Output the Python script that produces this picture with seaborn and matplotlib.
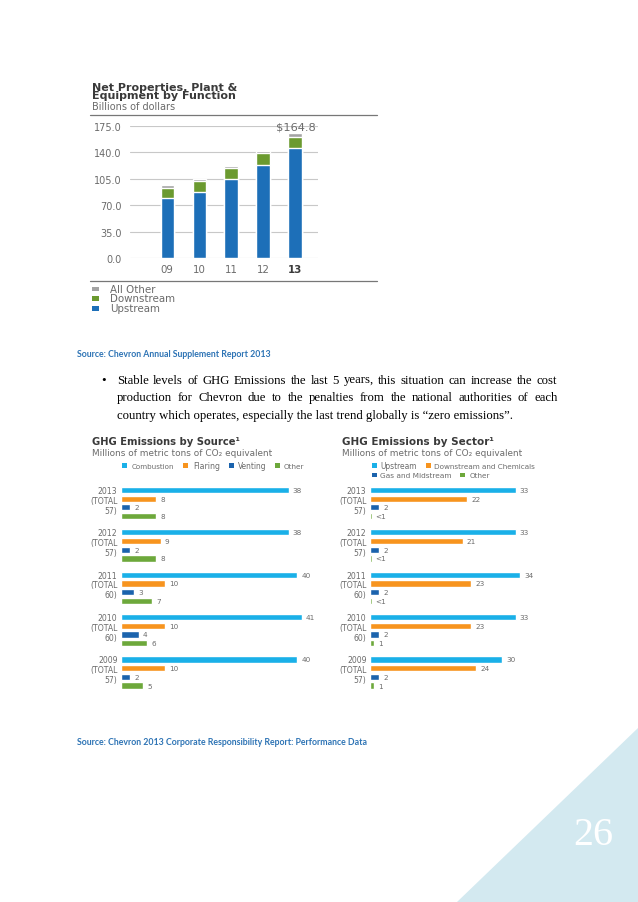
import numpy as np
import pandas as pd
import matplotlib
matplotlib.use("Agg")
import matplotlib.pyplot as plt
from matplotlib.patches import Rectangle, Polygon
import seaborn as sns

# ---------------- data ----------------
ppe_years = ["09", "10", "11", "12", "13"]
ppe_upstream = [79.0, 87.0, 105.0, 122.5, 145.0]
ppe_downstream = [13.5, 14.5, 14.0, 16.0, 15.5]
ppe_other = [3.5, 3.0, 2.5, 2.5, 4.3]
ppe_yticks = [0, 35, 70, 105, 140, 175]
ppe_total_label = "$164.8"

ghg_years = ["2013", "2012", "2011", "2010", "2009"]
ghg_totals = [57, 57, 60, 60, 57]

src_series = ["Combustion", "Flaring", "Venting", "Other"]
src_combustion = [38, 38, 40, 41, 40]
src_flaring = [8, 9, 10, 10, 10]
src_venting = [2, 2, 3, 4, 2]
src_other = [8, 8, 7, 6, 5]

sec_series = ["Upstream", "Downstream and Chemicals", "Gas and Midstream", "Other"]
sec_upstream = [33, 33, 34, 33, 30]
sec_downstream = [22, 21, 23, 23, 24]
sec_gas = [2, 2, 2, 2, 2]
sec_other = [0.35, 0.35, 0.35, 1, 1]
sec_other_labels = ["<1", "<1", "<1", "1", "1"]

# ---------------- figure ----------------
sns.set_theme(style="white")
plt.rcParams["font.family"] = ["DejaVu Sans"]
W, H = 638, 903
fig = plt.figure(figsize=(W / 100, H / 100), dpi=100)
fig.patch.set_facecolor("white")
renderer = fig.canvas.get_renderer()


def fx(x):
    return x / W


def fy(y):
    return 1 - y / H


def ax_rect(x0, y0, x1, y1):
    return [fx(x0), fy(y1), (x1 - x0) / W, (y1 - y0) / H]


def ftext(x, y, s, target_w=None, ha="left", va="center", max_size=None, **kw):
    t = fig.text(fx(x), fy(y), s, ha=ha, va=va, **kw)
    if target_w is not None:
        w = t.get_window_extent(renderer).width
        if w > 0:
            size = t.get_fontsize() * target_w / w
            if max_size is not None:
                size = min(size, max_size)
            t.set_fontsize(size)
    return t


def hline(x0, x1, y, color="#777777", lw=0.9):
    fig.add_artist(plt.Line2D([fx(x0), fx(x1)], [fy(y), fy(y)],
                              transform=fig.transFigure, color=color, lw=lw))


def square(x, y, color, w=5, h=5):
    fig.add_artist(Rectangle((fx(x), fy(y + h / 2)), w / W, h / H,
                             transform=fig.transFigure, color=color, lw=0))


DARK = "#3a3a3a"
GRAY = "#6b6b6b"

# ---------------- top chart: PP&E ----------------
c_up, c_down, c_oth = "#1d6fb8", "#6b9a2f", "#a3a3a3"
ftext(92, 99.0, "Net Properties, Plant &\nEquipment by Function", None, va="baseline",
      fontweight="bold", color=DARK, fontsize=8.0, linespacing=0.8)
ftext(92, 109.8, "Billions of dollars", None, va="baseline", color=GRAY, fontsize=7.0)
hline(90, 377, 115.5)
hline(90, 377, 282)

ax1 = fig.add_axes(ax_rect(130, 126.7, 318, 259))
df_ppe = pd.DataFrame({"year": ppe_years, "up": ppe_upstream,
                       "down": ppe_downstream, "oth": ppe_other})
df_ppe["tot"] = df_ppe["up"] + df_ppe["down"] + df_ppe["oth"]
df_ppe["updown"] = df_ppe["up"] + df_ppe["down"]
for col, c in [("tot", c_oth), ("updown", c_down), ("up", c_up)]:
    sns.barplot(data=df_ppe, x="year", y=col, color=c, saturation=1,
                width=0.41, ax=ax1, errorbar=None, zorder=3)
ax1.set_ylim(0, 175)
ax1.set_xlim(-1.16, 4.72)
ax1.set_yticks(ppe_yticks, [f"{v:.1f}" for v in ppe_yticks])
ax1.grid(axis="y", color="#c8c8c8", lw=0.8, zorder=0)
ax1.set_axisbelow(True)
for s in ax1.spines.values():
    s.set_visible(False)
ax1.set_xlabel("")
ax1.set_ylabel("")
ax1.tick_params(axis="y", length=0, pad=6, labelsize=7.0, labelcolor=GRAY)
ax1.tick_params(axis="x", length=0, pad=4, labelsize=7.4, labelcolor=GRAY)
for lab in ax1.get_xticklabels():
    if lab.get_text() == "13":
        lab.set_fontweight("bold")
        lab.set_color(DARK)
last = len(ppe_years) - 1
ax1.annotate(ppe_total_label, (last, df_ppe["tot"].iloc[last]), xytext=(0.5, 1.5),
             textcoords="offset points", ha="center", va="bottom",
             fontsize=8.2, color=GRAY)

for y, lab, c in [(290, "All Other", c_oth), (299.5, "Downstream", c_down),
                  (309.3, "Upstream", c_up)]:
    square(92, y, c, w=7, h=4.5)
    ftext(110, y, lab, None, color=GRAY, fontsize=7.4)

# ---------------- source 1 ----------------
BLUE_TXT = "#2e74b5"
ftext(77, 354.5, "Source: Chevron Annual Supplement Report 2013", 197,
      color=BLUE_TXT, family=["Lato", "DejaVu Sans"], fontweight="bold", fontsize=7)

# ---------------- bullet paragraph ----------------
serif = ["Liberation Serif", "DejaVu Serif"]
ftext(101.5, 380.5, "•", None, color="black", family=serif, fontsize=9.5)
lines = [
    "Stable levels of GHG Emissions the last 5 years, this situation can increase the cost",
    "production for Chevron due to the penalties from the national authorities of each",
    "country which operates, especially the last trend globally is “zero emissions”.",
]
line_y = [380.5, 398.5, 416.3]
x_start, x_end = 116.7, 557.5
probe = ftext(x_start, line_y[2], lines[2], 396.5, color="black", family=serif, fontsize=10)
fsz = probe.get_fontsize()
probe.remove()
for txt, yy in zip(lines[:2], line_y[:2]):
    words = txt.split(" ")
    objs = [ftext(0, yy, w_, None, color="black", family=serif, fontsize=fsz) for w_ in words]
    widths = [o.get_window_extent(renderer).width for o in objs]
    gap = (x_end - x_start - sum(widths)) / (len(words) - 1)
    xx = x_start
    for o, wd in zip(objs, widths):
        o.set_x(fx(xx))
        xx += wd + gap
ftext(x_start, line_y[2], lines[2], None, color="black", family=serif, fontsize=fsz)

# ---------------- GHG charts ----------------
c_cyan, c_orange, c_dblue, c_green = "#1ab0e8", "#f7941e", "#1b63ad", "#6da83b"
PXU = 4.41  # pixels per unit


def ghg_chart(x0, series, values, labels, colors, title, title_w, sub_w, tx):
    ylabels = [f"{y}\n(TOTAL\n{t})" for y, t in zip(ghg_years, ghg_totals)]
    rows = []
    for s, vals in zip(series, values):
        for yl, v in zip(ylabels, vals):
            rows.append({"year": yl, "series": s, "value": v})
    df = pd.DataFrame(rows)
    ax = fig.add_axes(ax_rect(x0, 482.8, x0 + 46 * PXU, 694.7))
    sns.barplot(data=df, y="year", x="value", hue="series", hue_order=series,
                order=ylabels, orient="h", palette=colors, saturation=1,
                width=0.82, gap=0.28, errorbar=None, legend=False, ax=ax)
    ax.set_xlim(0, 46)
    ax.set_ylim(4.5, -0.5)
    ax.set_xticks([])
    ax.set_yticks(np.arange(len(ylabels)) - 0.1, ylabels)
    for s in ax.spines.values():
        s.set_visible(False)
    ax.set_xlabel("")
    ax.set_ylabel("")
    ax.tick_params(axis="y", length=0, pad=2.5, labelsize=5.6, labelcolor=GRAY)
    for lab in ax.get_yticklabels():
        lab.set_linespacing(1.12)
        lab.set_ha("right")
    for cont, labs in zip(ax.containers, labels):
        ax.bar_label(cont, labels=labs, padding=3, fontsize=5.2, color=GRAY)
    ftext(tx, 442, title, title_w, fontweight="bold", color=DARK, fontsize=8)
    ftext(tx, 453.3, "Millions of metric tons of CO₂ equivalent", sub_w,
          color=GRAY, fontsize=6.5)
    return ax


src_labels = [[str(v) for v in vals] for vals in
              [src_combustion, src_flaring, src_venting, src_other]]
ghg_chart(121, src_series, [src_combustion, src_flaring, src_venting, src_other],
          src_labels, [c_cyan, c_orange, c_dblue, c_green],
          "GHG Emissions by Source¹", 148, 180, 92)

sec_labels = [[str(v) for v in sec_upstream], [str(v) for v in sec_downstream],
              [str(v) for v in sec_gas], sec_other_labels]
ghg_chart(370, sec_series, [sec_upstream, sec_downstream, sec_gas, sec_other],
          sec_labels, [c_cyan, c_orange, c_dblue, c_green],
          "GHG Emissions by Sector¹", 151, 180, 341.7)

# legends
for sx, tx_, lab, c, w in [(122, 132, "Combustion", c_cyan, 43), (183, 193, "Flaring", c_orange, 27),
                           (229, 238, "Venting", c_dblue, 29), (275, 284, "Other", c_green, 21)]:
    square(sx, 466.7, c, w=5, h=4.5)
    ftext(tx_, 466.7, lab, w, color=GRAY, fontsize=6)
for sx, tx_, yy, lab, c, w in [(372, 380, 466.7, "Upstream", c_cyan, 37),
                               (426, 434, 466.7, "Downstream and Chemicals", c_orange, 103),
                               (372, 380, 476, "Gas and Midstream", c_dblue, 72),
                               (460, 470, 476, "Other", c_green, 21)]:
    square(sx, yy, c, w=5, h=4.5)
    ftext(tx_, yy, lab, w, color=GRAY, fontsize=6)

# ---------------- source 2 ----------------
ftext(77, 742.5, "Source: Chevron 2013 Corporate Responsibility Report: Performance Data", 295,
      color=BLUE_TXT, family=["Lato", "DejaVu Sans"], fontweight="bold", fontsize=7)

# ---------------- page corner ----------------
fig.add_artist(Polygon([[fx(638), fy(729)], [fx(457), fy(903)], [fx(638), fy(903)]],
                       closed=True, transform=fig.transFigure, color="#d3e9f0", lw=0))
ftext(593, 836, "26", 40, ha="center", color="white", family=serif, fontsize=26)

fig.savefig("out.png", dpi=100)
